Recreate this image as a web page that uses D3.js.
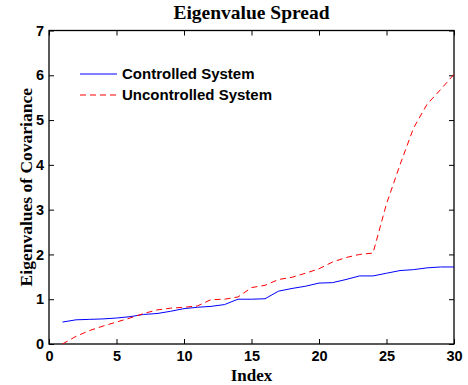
<!DOCTYPE html>
<html>
<head>
<meta charset="utf-8">
<script src="https://cdn.jsdelivr.net/npm/d3@7"></script>
<style>
  body { margin: 0; background: #fff; }
  svg { display: block; }
</style>
</head>
<body>
<svg id="drawing_region"></svg>
<script>
// eigenvalues by index (1..30)
const indexes = d3.range(1, 31);
const controlled = [0.49, 0.54, 0.55, 0.56, 0.58, 0.61, 0.66, 0.68, 0.73, 0.79,
                    0.82, 0.84, 0.88, 1.00, 1.00, 1.01, 1.18, 1.24, 1.29, 1.36,
                    1.37, 1.44, 1.52, 1.52, 1.58, 1.64, 1.66, 1.70, 1.72, 1.72];
const uncontrolled = [0.00, 0.17, 0.30, 0.40, 0.49, 0.58, 0.68, 0.76, 0.80, 0.82,
                      0.85, 0.99, 1.00, 1.05, 1.26, 1.31, 1.44, 1.49, 1.58, 1.68,
                      1.83, 1.93, 2.00, 2.03, 3.13, 4.00, 4.82, 5.35, 5.68, 6.02];
const xTicks = [0, 5, 10, 15, 20, 25, 30];
const yTicks = [0, 1, 2, 3, 4, 5, 6, 7];
const seriesNames = ['Controlled System', 'Uncontrolled System'];

const W = 468, H = 385;
const margin = { left: 49, right: 14, top: 30.5, bottom: 41 };

const svg = d3.select('#drawing_region')
    .attr('width', W)
    .attr('height', H);

const x = d3.scaleLinear().domain([0, 30]).range([margin.left, W - margin.right]);
const y = d3.scaleLinear().domain([0, 7]).range([H - margin.bottom, margin.top]);

const tickFont = 'bold 14.5px "Liberation Sans", Arial, sans-serif';
const serif = '"Liberation Serif", "Times New Roman", serif';

// axes with inward ticks
svg.append('g')
    .attr('transform', `translate(0,${y(0)})`)
    .call(d3.axisBottom(x).tickValues(xTicks).tickFormat(d3.format('d'))
        .tickSizeInner(-5).tickSizeOuter(0).tickPadding(7));
svg.append('g')
    .attr('transform', `translate(${x(0)},0)`)
    .call(d3.axisLeft(y).tickValues(yTicks).tickFormat(d3.format('d'))
        .tickSizeInner(-5).tickSizeOuter(0).tickPadding(5));
svg.append('g')
    .attr('transform', `translate(0,${y(7)})`)
    .call(d3.axisTop(x).tickValues(xTicks).tickSizeInner(-5).tickSizeOuter(0).tickFormat(''));
svg.append('g')
    .attr('transform', `translate(${x(30)},0)`)
    .call(d3.axisRight(y).tickValues(yTicks).tickSizeInner(-5).tickSizeOuter(0).tickFormat(''));

svg.selectAll('.domain').remove();
svg.selectAll('.tick line').attr('stroke', '#000').attr('stroke-width', 1);
svg.selectAll('.tick text').style('font', tickFont).attr('fill', '#000');

// frame
svg.append('rect')
    .attr('x', x(0)).attr('y', y(7))
    .attr('width', x(30) - x(0)).attr('height', y(0) - y(7))
    .attr('fill', 'none').attr('stroke', '#000').attr('stroke-width', 1.3);

const line = d3.line().x((d, i) => x(indexes[i])).y(d => y(d));

svg.append('path')
    .datum(controlled)
    .attr('d', line)
    .attr('fill', 'none')
    .attr('stroke', '#0000ff')
    .attr('stroke-width', 1);

svg.append('path')
    .datum(uncontrolled)
    .attr('d', line)
    .attr('fill', 'none')
    .attr('stroke', '#ff0000')
    .attr('stroke-width', 1)
    .attr('stroke-dasharray', '6,4');

// legend
const legend = svg.append('g');
const legendColors = ['#0000ff', '#ff0000'];
const legendDash = [null, '6,4'];
seriesNames.forEach((name, i) => {
    const ly = 74 + i * 21;
    legend.append('line')
        .attr('x1', 80).attr('x2', 117)
        .attr('y1', ly).attr('y2', ly)
        .attr('stroke', legendColors[i])
        .attr('stroke-width', 1)
        .attr('stroke-dasharray', legendDash[i]);
    legend.append('text')
        .attr('x', 122).attr('y', ly + 5)
        .style('font', 'bold 15px "Liberation Sans", Arial, sans-serif')
        .text(name);
});

// title and labels
svg.append('text')
    .attr('x', (x(0) + x(30)) / 2).attr('y', 19)
    .attr('text-anchor', 'middle')
    .style('font', `bold 19.5px ${serif}`)
    .text('Eigenvalue Spread');

svg.append('text')
    .attr('x', (x(0) + x(30)) / 2).attr('y', 381)
    .attr('text-anchor', 'middle')
    .style('font', `bold 17px ${serif}`)
    .text('Index');

svg.append('text')
    .attr('transform', `translate(32,${(y(0) + y(7)) / 2}) rotate(-90)`)
    .attr('text-anchor', 'middle')
    .style('font', `bold 17.5px ${serif}`)
    .text('Eigenvalues of Covariance');
</script>
</body>
</html>
